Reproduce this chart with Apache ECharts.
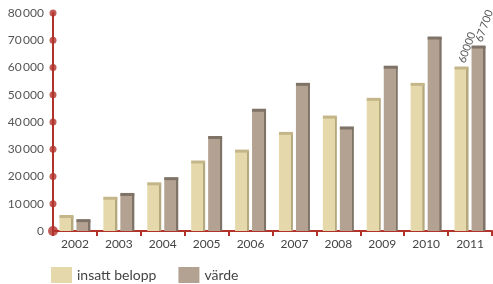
<!DOCTYPE html>
<html>
<head>
<meta charset="utf-8">
<script src="https://cdn.jsdelivr.net/npm/echarts@6/dist/echarts.min.js"></script>
<style>
  html, body { margin: 0; padding: 0; background: #fff; }
  #main { width: 493px; height: 284px; }
</style>
</head>
<body>
<div id="main"></div>
<script>
  // data
  var years = ['2002', '2003', '2004', '2005', '2006', '2007', '2008', '2009', '2010', '2011'];
  var insatt = [5500, 12200, 17500, 25500, 29500, 36000, 42000, 48500, 54000, 60000];
  var varde = [4000, 13600, 19400, 34500, 44500, 54000, 38000, 60300, 71000, 67700];
  var yTicks = [0, 10000, 20000, 30000, 40000, 50000, 60000, 70000, 80000];

  var red = '#b2322a';
  var font = 'Lato';
  var barW = 14, gap = 3;

  function fmt(v) {
    return String(v).replace(/\B(?=(\d{3})+(?!\d))/g, '\u2009');
  }

  // vertical face + darker right edge
  function face(main, dark) {
    return new echarts.graphic.LinearGradient(0, 0, 1, 0, [
      { offset: 0, color: main },
      { offset: 0.84, color: main },
      { offset: 0.85, color: dark },
      { offset: 1, color: dark }
    ]);
  }

  // label only on the last bar
  function lastLabel(arr, text) {
    return arr.map(function (v, i) {
      if (i !== arr.length - 1) return v;
      return {
        value: v,
        label: {
          show: true, position: 'top', rotate: 70, align: 'left', verticalAlign: 'middle',
          distance: 5, formatter: text, color: '#555', fontSize: 11, fontFamily: font
        }
      };
    });
  }

  // darker top cap for each bar (drawn through the axes)
  function capSeries(arr, dx, color) {
    return {
      type: 'custom', silent: true, z: 3,
      data: arr.map(function (v, i) { return [i, v]; }),
      encode: { x: 0, y: 1 },
      renderItem: function (params, api) {
        var p = api.coord([api.value(0), api.value(1)]);
        return {
          type: 'rect',
          shape: { x: p[0] + dx - barW / 2, y: p[1] - 1, width: barW, height: 3 },
          style: { fill: color }
        };
      }
    };
  }

  var myChart = echarts.init(document.getElementById('main'));
  myChart.setOption({
    animation: false,
    grid: { left: 53, right: 1, top: 13, bottom: 53 },
    legend: {
      left: 46, top: 262, itemWidth: 21, itemHeight: 16, itemGap: 22,
      icon: 'rect',
      textStyle: { color: '#444', fontSize: 14, fontFamily: font },
      data: [
        { name: 'insatt belopp', itemStyle: { color: '#e5d9ab' } },
        { name: 'värde', itemStyle: { color: '#b3a291' } }
      ]
    },
    xAxis: [{
      type: 'category',
      data: years,
      axisLine: { lineStyle: { color: red, width: 2 } },
      axisTick: { show: true, length: 5, lineStyle: { color: red, width: 2 } },
      axisLabel: { color: '#444', fontSize: 12, fontFamily: font, margin: 7 }
    }, {
      type: 'value', min: 0, max: 1, show: false
    }],
    yAxis: {
      type: 'value', min: 0, max: 80000, interval: 10000,
      splitLine: { show: false },
      axisLine: { show: true, lineStyle: { color: red, width: 2 } },
      axisTick: { show: false },
      axisLabel: {
        color: '#555', fontSize: 12, fontFamily: font, margin: 9,
        formatter: function (v) { return fmt(v); }
      }
    },
    series: [
      {
        name: 'insatt belopp', type: 'bar', barWidth: barW, barGap: (gap / barW * 100) + '%',
        data: lastLabel(insatt, '60000'),
        itemStyle: { color: face('#e5d9ab', '#b4a87f') },
        z: 2
      },
      {
        name: 'värde', type: 'bar', barWidth: barW,
        data: lastLabel(varde, '67\u2009700'),
        itemStyle: { color: face('#b3a291', '#7f7367') },
        z: 2
      },
      capSeries(insatt, -(barW + gap) / 2, '#c4b688'),
      capSeries(varde, (barW + gap) / 2, '#7f7367'),
      // dots on the y axis
      {
        type: 'scatter', xAxisIndex: 1,
        data: yTicks.map(function (t) { return [0, t]; }),
        symbolSize: function (d) { return d[1] === 0 ? 10 : 7; },
        itemStyle: { color: red },
        clip: false, silent: true, z: 5
      }
    ]
  });
</script>
</body>
</html>
